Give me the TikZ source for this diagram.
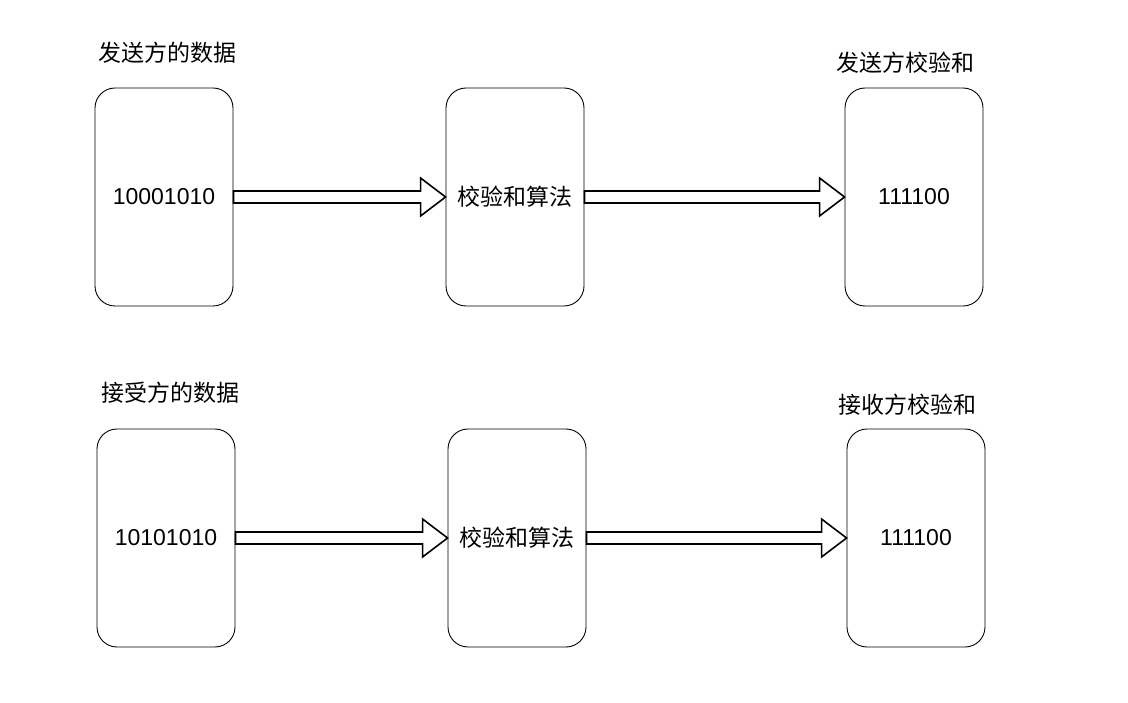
\documentclass[tikz,border=0pt]{standalone}
\usepackage{fontspec}
\setmainfont{Liberation Sans}
\newfontfamily\cjk{Noto Sans CJK SC}
\usetikzlibrary{positioning, calc}

\tikzset{
	databox/.style={draw, line width=0.9pt, rounded corners=20pt, minimum width=138pt, minimum height=218pt, font=\fontsize{23}{27}\selectfont},
	caption/.style={font=\cjk\fontsize{23}{27}\selectfont},
	hollow/.style={draw, line width=1.6pt, line join=miter, fill=white}
}

% hollow block arrow from #1.east to #2.west
\newcommand{\blockarrow}[2]{
	\draw[hollow] ($(#1.east)+(0,6)$) -- ($(#2.west)+(-25,6)$) -- ++(0,13)
		-- (#2.west) -- ($(#2.west)+(-25,-19)$) -- ++(0,13)
		-- ($(#1.east)+(0,-6)$) -- cycle;
}

\begin{document}
\begin{tikzpicture}[x=1pt, y=-1pt]
	\useasboundingbox (0,0) rectangle (1128,703);

	% sender
	\node[databox]			(sdata)		at (164,197)	{10001010};
	\node[databox]			(salgo)		at (515,197)	{\cjk 校验和算法};
	\node[databox]			(ssum)		at (914,197)	{111100};
	\node[caption]			(sdatal)	at (167,53)		{发送方的数据};
	\node[caption]			(ssuml)		at (905,63)		{发送方校验和};

	% receiver
	\node[databox]			(rdata)		at (166,538)	{10101010};
	\node[databox]			(ralgo)		at (517,538)	{\cjk 校验和算法};
	\node[databox]			(rsum)		at (916,538)	{111100};
	\node[caption]			(rdatal)	at (170,393)	{接受方的数据};
	\node[caption]			(rsuml)		at (907,405)	{接收方校验和};

	\blockarrow{sdata}{salgo}
	\blockarrow{salgo}{ssum}
	\blockarrow{rdata}{ralgo}
	\blockarrow{ralgo}{rsum}
\end{tikzpicture}
\end{document}
